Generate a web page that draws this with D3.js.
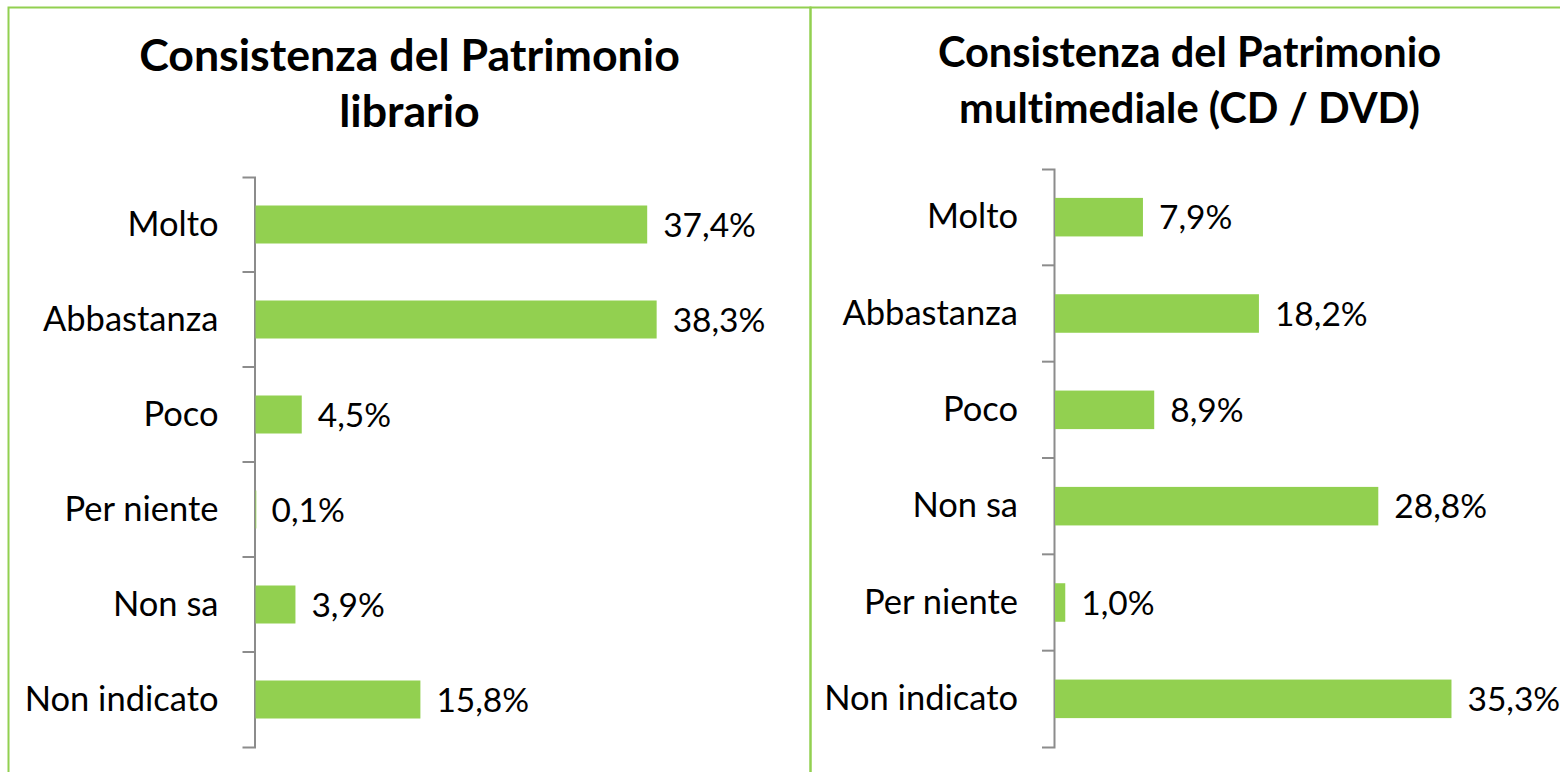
<!DOCTYPE html>
<html>
<head>
<meta charset="utf-8">
<script src="https://cdn.jsdelivr.net/npm/d3@7"></script>
<style>
  body { margin: 0; background: #fff; }
  text { font-family: Lato, "Open Sans", sans-serif; fill: #000; font-variant-ligatures: none; }
</style>
</head>
<body>
<script>
// chart data
var librariTitle = ["Consistenza del Patrimonio", "librario"];
var librariCats = ["Molto", "Abbastanza", "Poco", "Per niente", "Non sa", "Non indicato"];
var librariValues = [37.4, 38.3, 4.5, 0.1, 3.9, 15.8];

var mediaTitle = ["Consistenza del Patrimonio", "multimediale (CD / DVD)"];
var mediaCats = ["Molto", "Abbastanza", "Poco", "Non sa", "Per niente", "Non indicato"];
var mediaValues = [7.9, 18.2, 8.9, 28.8, 1.0, 35.3];

var green = "#92d050";
var axisGray = "#8c8c8c";

var it = d3.formatLocale({decimal: ",", thousands: ".", grouping: [3], currency: ["€", ""]});
var pct = function(v) { return it.format(".1f")(v) + "%"; };

var svg = d3.select("body").append("svg")
    .attr("width", 1560).attr("height", 772);

function drawPanel(p) {
    var g = svg.append("g");

    // panel border
    g.append("rect")
        .attr("x", p.left).attr("y", 7.5)
        .attr("width", p.width).attr("height", 820)
        .attr("fill", "none")
        .attr("stroke", green)
        .attr("stroke-width", 2);

    // title
    g.selectAll("text.title")
        .data(p.title)
        .enter()
        .append("text")
        .attr("class", "title")
        .attr("x", p.left + p.width / 2)
        .attr("y", function(d, i) { return p.titleY + i * 56; })
        .attr("text-anchor", "middle")
        .attr("font-weight", "bold")
        .attr("font-size", p.titleSize)
        .text(function(d) { return d; });

    var x = d3.scaleLinear()
        .domain([0, p.max])
        .range([p.axisX, p.axisX + p.max * p.pxPer]);

    var y = d3.scaleBand()
        .domain(p.cats)
        .range([p.top, 747])
        .paddingInner(0.6)
        .paddingOuter(0.3);

    var axis = d3.axisLeft(y)
        .tickSizeInner(0)
        .tickSizeOuter(12)
        .tickPadding(36);

    var ax = g.append("g")
        .attr("transform", "translate(" + p.axisX + ",0)")
        .call(axis);
    ax.select(".domain")
        .attr("stroke", axisGray)
        .attr("stroke-width", 2);
    ax.selectAll(".tick text")
        .attr("font-size", 34.5)
        .attr("font-family", "Lato, sans-serif")
        .attr("fill", "#000");

    // ticks between categories
    var step = y.step();
    ax.selectAll("line.sep")
        .data(d3.range(1, p.cats.length))
        .enter()
        .append("line")
        .attr("class", "sep")
        .attr("x1", -12).attr("x2", 0)
        .attr("y1", function(i) { return p.top + i * step; })
        .attr("y2", function(i) { return p.top + i * step; })
        .attr("stroke", axisGray)
        .attr("stroke-width", 2);

    var rows = p.cats.map(function(c, i) { return {cat: c, value: p.values[i]}; });

    g.selectAll("rect.bar")
        .data(rows)
        .enter()
        .append("rect")
        .attr("class", "bar")
        .attr("x", x(0) + 1)
        .attr("y", function(d) { return y(d.cat); })
        .attr("width", function(d) { return Math.max(0.8, x(d.value) - x(0) - 1); })
        .attr("height", y.bandwidth())
        .attr("fill", green);

    g.selectAll("text.val")
        .data(rows)
        .enter()
        .append("text")
        .attr("class", "val")
        .attr("x", function(d) { return x(d.value) + 16; })
        .attr("y", function(d) { return y(d.cat) + y.bandwidth() / 2; })
        .attr("dy", "0.36em")
        .attr("font-size", 33.5)
        .text(function(d) { return pct(d.value); });
}

drawPanel({
    title: librariTitle, cats: librariCats, values: librariValues,
    left: 8.5, width: 802, titleY: 71, titleSize: 44.7,
    axisX: 254.5, top: 177, max: 45, pxPer: 10.5
});

drawPanel({
    title: mediaTitle, cats: mediaCats, values: mediaValues,
    left: 810.5, width: 758, titleY: 67, titleSize: 41.6,
    axisX: 1054, top: 169, max: 40, pxPer: 11.26
});
</script>
</body>
</html>
